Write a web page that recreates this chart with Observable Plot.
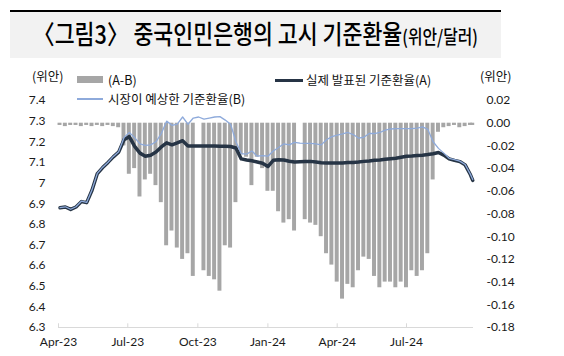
<!DOCTYPE html>
<html><head><meta charset="utf-8">
<script src="https://cdn.jsdelivr.net/npm/d3@7"></script>
<script src="https://cdn.jsdelivr.net/npm/@observablehq/plot@0.6"></script>
<style>
html,body{margin:0;padding:0;background:#fff;}
#page{position:relative;width:564px;height:356px;overflow:hidden;font-family:"Noto Sans CJK KR",sans-serif;}
#head{position:relative;height:60px;}
#tbox{position:absolute;left:10px;top:10px;width:491px;height:48px;background:#f2f2f2;border-top:2px solid #000;box-sizing:border-box;}
#ttl{position:absolute;left:23px;top:4px;white-space:nowrap;font-family:"Noto Sans CJK KR",sans-serif;font-weight:500;font-size:26px;color:#000;transform-origin:0 0;line-height:34px;}
#ttl small{font-size:19px;}
.lg{position:absolute;font-size:12.5px;color:#111;white-space:nowrap;line-height:16px;}
.sw{position:absolute;}
</style></head>
<body><div id="page">
<div id="head"><div id="tbox"><span id="ttl">〈그림3〉 중국인민은행의 고시 기준환율<small>(위안/달러)</small></span></div></div>
<div id="chart"></div>
<div class="lg" style="left:32px;top:68px;">(위안)</div>
<div class="lg" style="left:480px;top:68px;">(위안)</div>
<div class="sw" style="left:77px;top:76px;width:26px;height:7px;background:#a6a6a6;"></div>
<div class="lg" style="left:108px;top:72px;">(A-B)</div>
<div class="sw" style="left:77px;top:98px;width:26px;height:1.5px;background:#8eaadb;"></div>
<div class="lg" style="left:108px;top:91px;">시장이 예상한 기준환율(B)</div>
<div class="sw" style="left:275px;top:79px;width:28px;height:3px;background:#263445;"></div>
<div class="lg" style="left:306px;top:72px;">실제 발표된 기준환율(A)</div>
</div>
<script>
const dates = ["2023-04-03","2023-04-10","2023-04-17","2023-04-24","2023-05-01","2023-05-08","2023-05-15","2023-05-22","2023-05-29","2023-06-05","2023-06-12","2023-06-19","2023-06-26","2023-07-03","2023-07-10","2023-07-17","2023-07-24","2023-07-31","2023-08-07","2023-08-14","2023-08-21","2023-08-28","2023-09-04","2023-09-11","2023-09-18","2023-09-25","2023-10-02","2023-10-09","2023-10-16","2023-10-23","2023-10-30","2023-11-06","2023-11-13","2023-11-20","2023-11-27","2023-12-04","2023-12-11","2023-12-18","2023-12-25","2024-01-01","2024-01-08","2024-01-15","2024-01-22","2024-01-29","2024-02-05","2024-02-12","2024-02-19","2024-02-26","2024-03-04","2024-03-11","2024-03-18","2024-03-25","2024-04-01","2024-04-08","2024-04-15","2024-04-22","2024-04-29","2024-05-06","2024-05-13","2024-05-20","2024-05-27","2024-06-03","2024-06-10","2024-06-17","2024-06-24","2024-07-01","2024-07-08","2024-07-15","2024-07-22","2024-07-29","2024-08-05","2024-08-12","2024-08-19","2024-08-26","2024-09-02","2024-09-09","2024-09-16","2024-09-23","2024-09-26"];
// 실제 발표된 기준환율(A)
const actualA = [6.880,6.884,6.872,6.884,6.910,6.905,6.965,7.046,7.075,7.100,7.127,7.150,7.210,7.225,7.178,7.145,7.130,7.135,7.150,7.175,7.195,7.185,7.195,7.205,7.180,7.180,7.180,7.180,7.179,7.180,7.178,7.178,7.177,7.170,7.117,7.112,7.108,7.102,7.096,7.080,7.110,7.113,7.112,7.106,7.102,7.103,7.104,7.105,7.102,7.098,7.097,7.097,7.097,7.097,7.099,7.100,7.102,7.105,7.107,7.110,7.112,7.115,7.118,7.120,7.125,7.130,7.131,7.133,7.135,7.138,7.142,7.148,7.135,7.117,7.110,7.104,7.088,7.040,7.013];
// 시장이 예상한 기준환율(B)
const expectedB = [6.881,6.885,6.873,6.885,6.912,6.906,6.967,7.047,7.077,7.101,7.129,7.152,7.220,7.245,7.220,7.190,7.183,7.185,7.200,7.240,7.300,7.280,7.285,7.320,7.285,7.315,7.320,7.310,7.315,7.320,7.322,7.305,7.285,7.200,7.143,7.140,7.155,7.130,7.133,7.130,7.155,7.172,7.190,7.185,7.197,7.193,7.192,7.192,7.190,7.185,7.210,7.225,7.232,7.238,7.245,7.235,7.218,7.222,7.240,7.240,7.245,7.256,7.262,7.264,7.264,7.264,7.264,7.266,7.272,7.260,7.200,7.168,7.145,7.120,7.113,7.106,7.090,7.042,7.017];
// (A-B), right axis; null = holiday weeks with no fixing
const gapAB = [-0.002,-0.003,-0.002,-0.002,-0.003,-0.002,-0.003,-0.002,-0.003,-0.002,-0.003,-0.004,-0.020,-0.045,-0.040,-0.065,-0.050,-0.045,-0.055,-0.070,-0.108,-0.095,-0.110,-0.120,-0.115,-0.135,null,-0.130,-0.135,-0.138,-0.148,-0.108,-0.110,-0.070,-0.028,-0.030,-0.055,-0.030,-0.040,-0.060,-0.060,-0.078,-0.088,-0.085,-0.095,null,-0.085,-0.088,-0.090,-0.100,-0.115,-0.125,-0.140,-0.155,-0.142,-0.145,-0.130,-0.118,-0.120,-0.135,-0.145,-0.140,-0.140,-0.145,-0.140,-0.145,-0.130,-0.135,-0.130,-0.115,-0.050,-0.008,-0.004,-0.003,-0.002,-0.004,-0.003,-0.002,-0.002];
const xTicks = ["2023-04-01","2023-07-01","2023-10-01","2024-01-01","2024-04-01","2024-07-01"];
const leftTicks = [6.3,6.4,6.5,6.6,6.7,6.8,6.9,7.0,7.1,7.2,7.3,7.4];
const rightTicks = [0.02,0,-0.02,-0.04,-0.06,-0.08,-0.10,-0.12,-0.14,-0.16,-0.18];

const toLeft = r => 6.3 + (r + 0.18) * 5.5;
const fmtRight = d => { const r = Math.round(((d - 6.3) / 5.5 - 0.18) * 100) / 100; return r.toFixed(2); };
const rows = dates.map((s, i) => ({date: new Date(s), a: actualA[i], b: expectedB[i], gap: gapAB[i]}));
const qTicks = xTicks.map(s => new Date(s));
const half = 2.6 * 864e5;

const chart = Plot.plot({
  width: 564, height: 296,
  marginTop: 40, marginBottom: 29, marginLeft: 58, marginRight: 91,
  x: {type: "utc", domain: [new Date("2023-04-01"), new Date("2024-09-27")]},
  y: {domain: [6.3, 7.4]},
  style: {fontFamily: "Lato, 'Noto Sans CJK KR', sans-serif", fontSize: "12px", color: "#1a1a1a", background: "transparent", overflow: "visible"},
  marks: [
    Plot.rectY(rows.filter(d => d.gap != null), {
      x1: d => new Date(+d.date - half), x2: d => new Date(+d.date + half),
      y1: () => toLeft(0), y2: d => toLeft(d.gap), fill: "#a6a6a6"
    }),
    Plot.ruleY([6.3], {stroke: "#d9d9d9"}),
    Plot.ruleX(qTicks, {y1: 6.3, y2: 6.318, stroke: "#d9d9d9"}),
    Plot.axisX({ticks: qTicks, tickSize: 0, tickPadding: 10, tickFormat: d3.utcFormat("%b-%y"), label: null}),
    Plot.axisY({ticks: leftTicks, tickSize: 0, tickPadding: 13, tickFormat: d => String(+d.toFixed(1)), label: null}),
    Plot.axisY(rightTicks.map(toLeft), {anchor: "right", tickSize: 0, tickPadding: 13, tickFormat: fmtRight, label: null}),
    Plot.lineY(rows, {x: "date", y: "a", stroke: "#263445", strokeWidth: 3.5, strokeLinejoin: "round"}),
    Plot.lineY(rows, {x: "date", y: "b", stroke: "#8eaadb", strokeWidth: 1.3})
  ]
});
document.getElementById("chart").appendChild(chart);
const t = document.getElementById("ttl");
const w = t.getBoundingClientRect().width;
t.style.transform = "scaleX(" + (445 / w) + ")";
</script>
</body></html>
